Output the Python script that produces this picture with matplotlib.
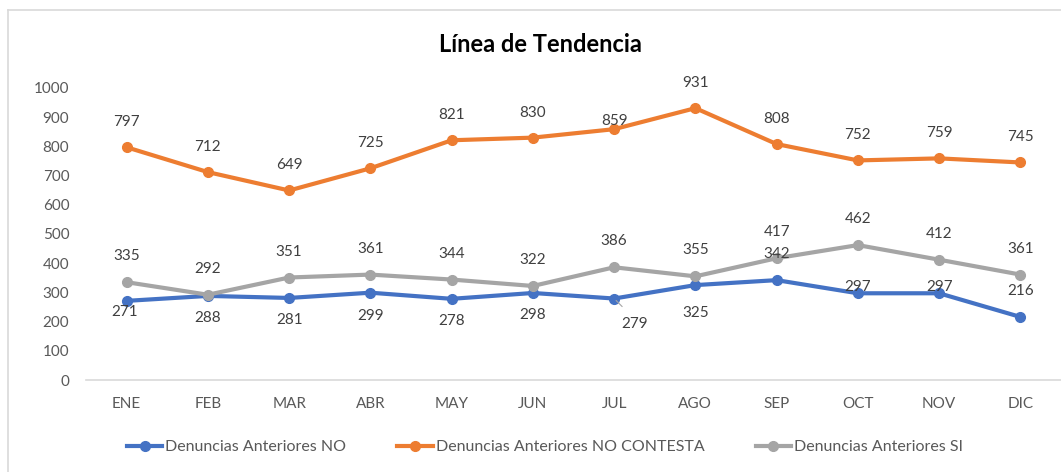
import numpy as np
import matplotlib.pyplot as plt
from matplotlib.lines import Line2D

# data
meses = ["ENE", "FEB", "MAR", "ABR", "MAY", "JUN", "JUL", "AGO", "SEP", "OCT", "NOV", "DIC"]
anteriores_no = [271, 288, 281, 299, 278, 298, 279, 325, 342, 297, 297, 216]
anteriores_no_contesta = [797, 712, 649, 725, 821, 830, 859, 931, 808, 752, 759, 745]
anteriores_si = [335, 292, 351, 361, 344, 322, 386, 355, 417, 462, 412, 361]

series = [
    ("Denuncias Anteriores NO", anteriores_no, "#4472C4"),
    ("Denuncias Anteriores NO CONTESTA", anteriores_no_contesta, "#ED7D31"),
    ("Denuncias Anteriores SI", anteriores_si, "#A5A5A5"),
]

# label offsets in pixels (dx, dy), positive dy = up
off_no = [(-2, -11), (0, -22), (0, -22), (0, -23), (0, -22), (0, -22),
          (20, -25), (0, -28), (0, 26), (0, 6), (0, 6), (0, 26)]
off_nc = [(0, 25)] * 6 + [(0, 8)] + [(0, 25)] * 5
off_si = [(0, 26)] * 12
offsets = [off_no, off_nc, off_si]

plt.rcParams["font.family"] = ["Lato", "DejaVu Sans"]

fig = plt.figure(figsize=(10.61, 4.72), dpi=100)
ax = fig.add_axes([86 / 1061, (472 - 380) / 472, (1061 - 86) / 1061, 292 / 472 * 1.08])

x = np.arange(len(meses))
pt = 0.72  # points per pixel
for (name, vals, col), offs in zip(series, offsets):
    ax.plot(x, vals, color=col, lw=3, marker="o", ms=7, label=name, zorder=3)
    for xi, v, (dx, dy) in zip(x, vals, offs):
        ax.annotate(str(v), (xi, v), xytext=(dx * pt, dy * pt), textcoords="offset points",
                    ha="center", va="center", fontsize=11, color="#404040", zorder=4)

# leader line for JUL blue label
ax.annotate("", (6, 279), xytext=(10 * pt, -10 * pt), textcoords="offset points",
            arrowprops=dict(arrowstyle="-", color="#A5A5A5", lw=0.8))

ax.set_xlim(-0.5, 11.5)
ax.set_ylim(0, 1080)
ax.set_yticks(range(0, 1001, 100))
ax.set_xticks(x)
ax.set_xticklabels(meses)
ax.tick_params(axis="both", length=0, labelsize=11, labelcolor="#595959")
ax.tick_params(axis="x", pad=12)
ax.tick_params(axis="y", pad=12)
for s in ["top", "right", "left"]:
    ax.spines[s].set_visible(False)
ax.spines["bottom"].set_color("#D9D9D9")
ax.spines["bottom"].set_linewidth(1.2)

fig.text(540 / 1061, 1 - 45 / 472, "Línea de Tendencia", ha="center", va="center",
         fontsize=17, fontweight="bold", color="black")

handles = [Line2D([0], [0], color=c, lw=3, marker="o", ms=7) for _, _, c in series]
fig.legend(handles, [s[0] for s in series], loc="center", bbox_to_anchor=(545 / 1061, 1 - 447 / 472),
           ncol=3, frameon=False, fontsize=11.5, handlelength=2.2, columnspacing=3.2, handletextpad=0.2,
           labelcolor="#595959")

# chart border (left and top visible)
fig.add_artist(Line2D([8 / 1061, 8 / 1061], [0, 1 - 10 / 472], color="#D9D9D9", lw=1.2))
fig.add_artist(Line2D([8 / 1061, 1], [1 - 10 / 472, 1 - 10 / 472], color="#D9D9D9", lw=1.2))

fig.savefig("out.png", dpi=100)
